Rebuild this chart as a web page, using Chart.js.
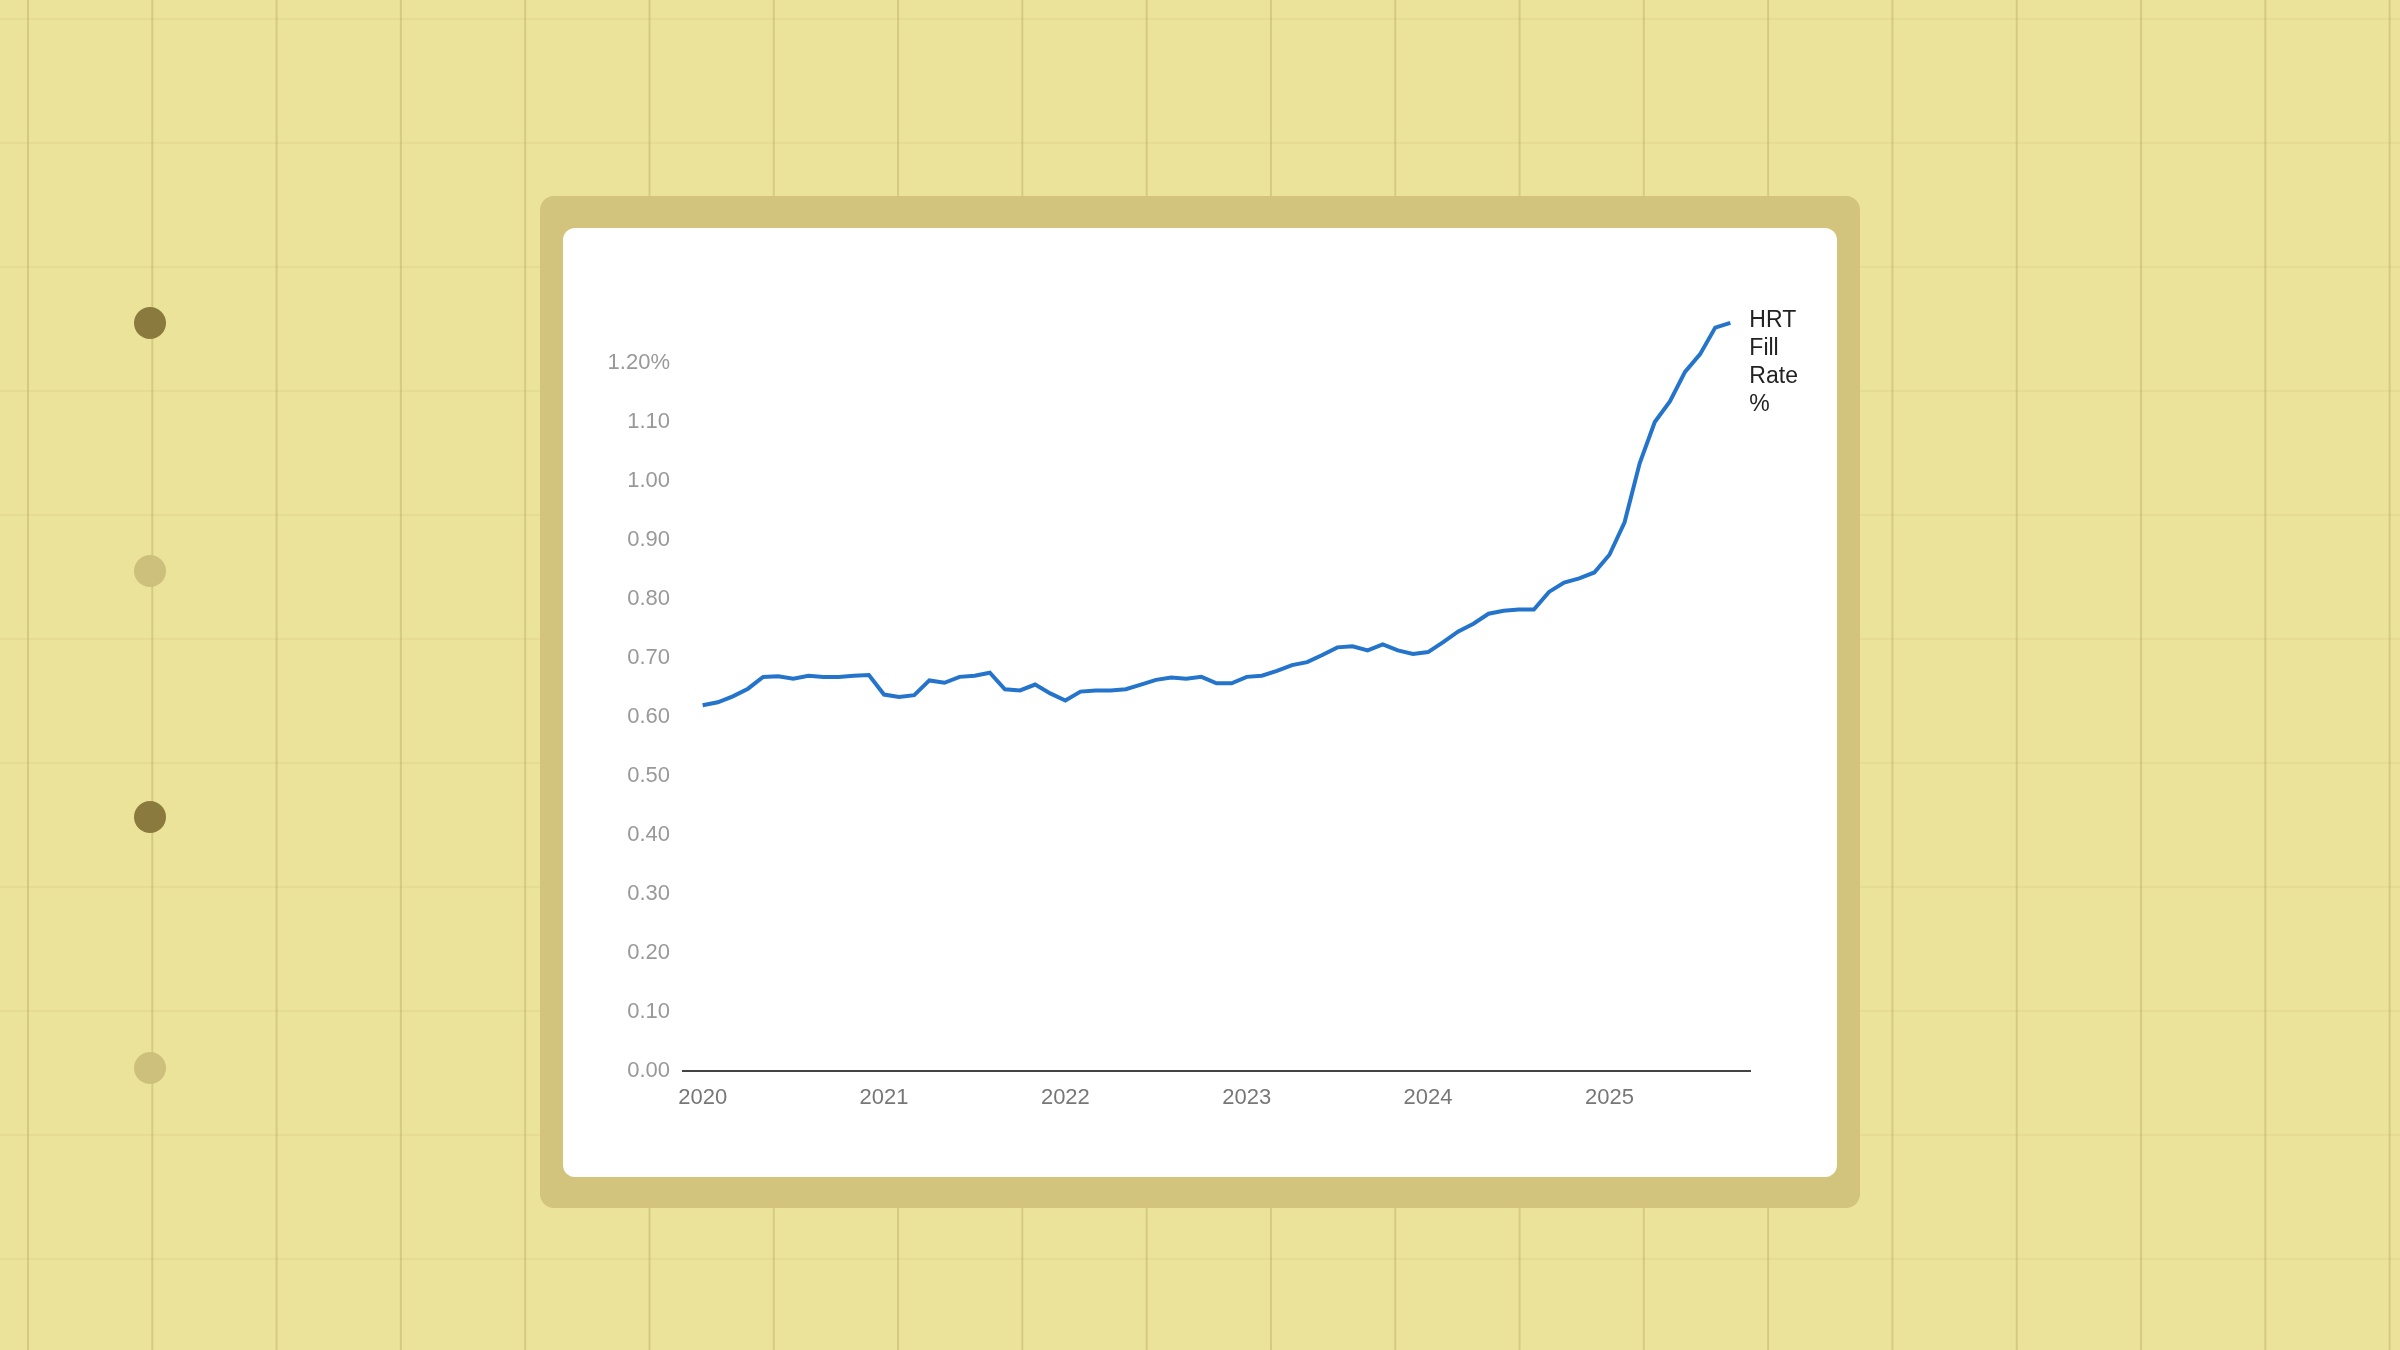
<!DOCTYPE html>
<html><head><meta charset="utf-8">
<script src="https://cdn.jsdelivr.net/npm/chart.js@4"></script>
<style>
html,body{margin:0;padding:0;width:2400px;height:1350px;overflow:hidden;background:#ece39a;font-family:"Liberation Sans",Arial,sans-serif}
#bg{position:absolute;left:0;top:0;width:2400px;height:1350px;
background-image:linear-gradient(90deg,rgba(170,155,80,0.35) 2px,transparent 2px),linear-gradient(0deg,rgba(200,185,110,0.18) 2px,transparent 2px);
background-size:124.3px 100%,100% 124px;background-position:27px 0,0 20px}
.frame{position:absolute;left:540px;top:196px;width:1320px;height:1012px;background:#d2c47c;border-radius:14px}
.card{position:absolute;left:563px;top:228px;width:1274px;height:949px;background:#fff;border-radius:12px}
.dot{position:absolute;left:134px;width:32px;height:32px;border-radius:50%}
canvas{position:absolute;left:0;top:0}
</style></head><body>
<div id="bg"></div>
<div class="frame"></div><div class="card"></div>
<div class="dot" style="top:307px;background:#8b7a3e"></div>
<div class="dot" style="top:555px;background:#cdbf7c"></div>
<div class="dot" style="top:801px;background:#8b7a3e"></div>
<div class="dot" style="top:1052px;background:#cdbf7c"></div>
<canvas id="c" width="2400" height="1350"></canvas>
<script>
const yearLabels=["2020","2021","2022","2023","2024","2025"];
const seriesLabel=["HRT","Fill","Rate","%"];
const fillRate=[
0.620,0.625,0.635,0.648,0.668,0.669,0.665,0.670,0.668,0.668,0.670,0.671,
0.638,0.634,0.637,0.662,0.658,0.668,0.670,0.675,0.647,0.645,0.655,0.640,
0.628,0.643,0.645,0.645,0.647,0.655,0.663,0.667,0.665,0.668,0.657,0.657,
0.668,0.670,0.678,0.688,0.693,0.705,0.718,0.720,0.713,0.723,0.713,0.707,
0.710,0.727,0.745,0.758,0.775,0.780,0.782,0.782,0.812,0.828,0.835,0.845,
0.875,0.930,1.030,1.100,1.135,1.185,1.215,1.260,1.268];
const pts=fillRate.map((v,i)=>({x:i,y:v}));
const endLabel={id:'endLabel',afterDatasetsDraw(ch){
 const m=ch.getDatasetMeta(0).data; const p=m[m.length-1]; const c=ch.ctx;
 c.save();c.font='23px "Liberation Sans",Arial';c.fillStyle='#222';c.textBaseline='middle';
 seriesLabel.forEach((t,i)=>c.fillText(t,p.x+19,p.y-2+i*28));c.restore();}};
new Chart(document.getElementById('c'),{type:'line',
data:{datasets:[{data:pts,borderColor:'#2474cc',borderWidth:4,pointRadius:0,tension:0,fill:false}]},
options:{responsive:false,animation:false,
 layout:{padding:{left:583,top:304,right:650,bottom:219}},
 plugins:{legend:{display:false},tooltip:{enabled:false}},
 scales:{
  x:{type:'linear',min:-1.3,max:69.3,grid:{display:false,drawTicks:false},
   border:{display:true,color:'#444',width:2},
   afterBuildTicks(a){a.ticks=yearLabels.map((_,i)=>({value:i*12}));},
   afterFit(a){a.height=60;},
   ticks:{color:'#777',font:{size:22,family:'"Liberation Sans",Arial'},padding:14,maxRotation:0,
    callback:(v)=>yearLabels[Math.round(v/12)]}},
  y:{min:0,max:1.3,grid:{display:false,drawTicks:false},border:{display:false},
   afterBuildTicks(a){const t=[];for(let i=0;i<=12;i++)t.push({value:i/10});a.ticks=t;},
   afterFit(a){a.width=100;},
   ticks:{color:'#999',font:{size:22,family:'"Liberation Sans",Arial'},padding:13,
    callback:(v)=>Math.abs(v-1.2)<1e-6?'1.20%':v.toFixed(2)}}}},
plugins:[endLabel]});
</script></body></html>
